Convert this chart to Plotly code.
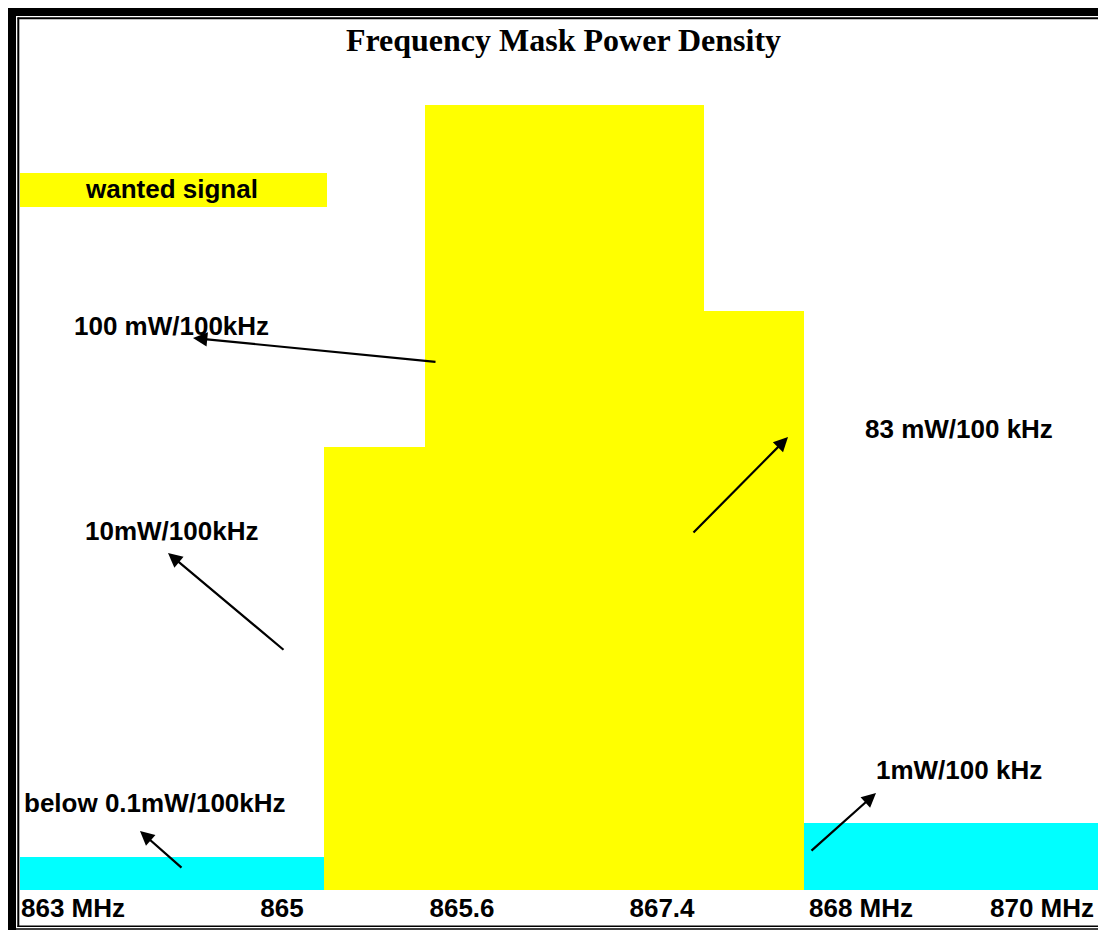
import plotly.graph_objects as go

# ---- data (schematic drawing units: x = horizontal drawing position, y = drawn level) ----
band_names = ["below 0.1mW/100kHz", "10mW/100kHz", "100 mW/100kHz", "83 mW/100 kHz", "1mW/100 kHz"]
band_edges = [0, 304, 405, 684, 784, 1086]
band_levels = [33, 443, 785, 579, 67]
band_colors = ["#00FFFF", "#FFFF00", "#FFFF00", "#FFFF00", "#00FFFF"]

tick_labels = ["863 MHz", "865", "865.6", "867.4", "868 MHz", "870 MHz"]
tick_positions = [53, 262, 442, 642, 841, 1022]

OFF = 8  # page body margin
W, H = 1106 - OFF, 930 - OFF
L, T, B = 20 - OFF, 20 - OFF, 40
PW, PH = W - L, H - T - B


def dx(px):
    return px - 20


def dy(py):
    return 890 - py


def ppx(px):
    return (px - 20) / PW


def ppy(py):
    return (890 - py) / PH


centers = [(band_edges[i] + band_edges[i + 1]) / 2 for i in range(len(band_levels))]
widths = [band_edges[i + 1] - band_edges[i] for i in range(len(band_levels))]

fig = go.Figure()
fig.add_trace(go.Bar(
    x=centers, y=band_levels, width=widths, base=0,
    marker=dict(color=band_colors, line=dict(width=0)),
    hovertext=band_names, showlegend=False,
))

font_lbl = dict(family="Arial, Liberation Sans, sans-serif", size=26, color="black", weight="bold")

annotations = []
labels = [
    ("100 mW/100kHz", 171, 326),
    ("83 mW/100 kHz", 959, 429),
    ("10mW/100kHz", 171, 531),
    ("below 0.1mW/100kHz", 155, 803),
    ("1mW/100 kHz", 959, 770),
    ("wanted signal", 171, 189),
]
for txt, px, py in labels:
    annotations.append(dict(x=dx(px), y=dy(py), xref="x", yref="y", text=txt,
                            showarrow=False, font=font_lbl, xanchor="center", yanchor="middle"))

arrows = [
    (437, 362, 193, 338),
    (692, 534, 788, 437),
    (285, 651, 168, 553),
    (183, 869, 140, 831),
    (810, 852, 876, 793),
]
for tx, ty, hx, hy in arrows:
    annotations.append(dict(x=dx(hx), y=dy(hy), ax=dx(tx), ay=dy(ty), xref="x", yref="y",
                            axref="x", ayref="y", text="", showarrow=True, arrowhead=2,
                            arrowsize=1.3, arrowwidth=2.2, arrowcolor="black"))

shapes = [
    dict(type="rect", xref="x", yref="y", x0=dx(20), x1=dx(327), y0=dy(207), y1=dy(173),
         fillcolor="#FFFF00", line=dict(width=0), layer="below"),
    dict(type="rect", xref="paper", yref="paper", x0=ppx(8), x1=ppx(1106), y0=ppy(16), y1=ppy(7),
         fillcolor="black", line=dict(width=0)),
    dict(type="rect", xref="paper", yref="paper", x0=ppx(8), x1=ppx(16), y0=ppy(930), y1=ppy(7),
         fillcolor="black", line=dict(width=0)),
    dict(type="line", xref="paper", yref="paper", x0=ppx(17.5), x1=ppx(1106), y0=ppy(18.3), y1=ppy(18.3),
         line=dict(color="black", width=2)),
    dict(type="line", xref="paper", yref="paper", x0=ppx(18.3), x1=ppx(18.3), y0=ppy(17.5), y1=ppy(927),
         line=dict(color="black", width=2)),
    dict(type="line", xref="paper", yref="paper", x0=ppx(17.5), x1=ppx(1106), y0=ppy(926.3), y1=ppy(926.3),
         line=dict(color="black", width=1.6)),
    dict(type="line", xref="paper", yref="paper", x0=ppx(8), x1=ppx(1106), y0=ppy(929), y1=ppy(929),
         line=dict(color="black", width=1.6)),
]

fig.update_layout(
    width=W, height=H,
    margin=dict(l=L, r=0, t=T, b=B),
    paper_bgcolor="white", plot_bgcolor="white",
    title=dict(text="Frequency Mask Power Density", x=(563.5 - OFF) / W, xanchor="center",
               y=1 - (40 - OFF) / H, yanchor="middle", xref="container", yref="container",
               font=dict(family="Times New Roman, Liberation Serif, serif", size=32, color="black",
                         weight="bold")),
    xaxis=dict(range=[0, PW], showgrid=False, zeroline=False, showline=False, ticks="",
               tickvals=tick_positions, ticktext=tick_labels, tickfont=font_lbl, fixedrange=True),
    yaxis=dict(range=[0, PH], visible=False, showgrid=False, zeroline=False, fixedrange=True),
    annotations=annotations,
    shapes=shapes,
    showlegend=False,
)

fig.write_html("out.html")
